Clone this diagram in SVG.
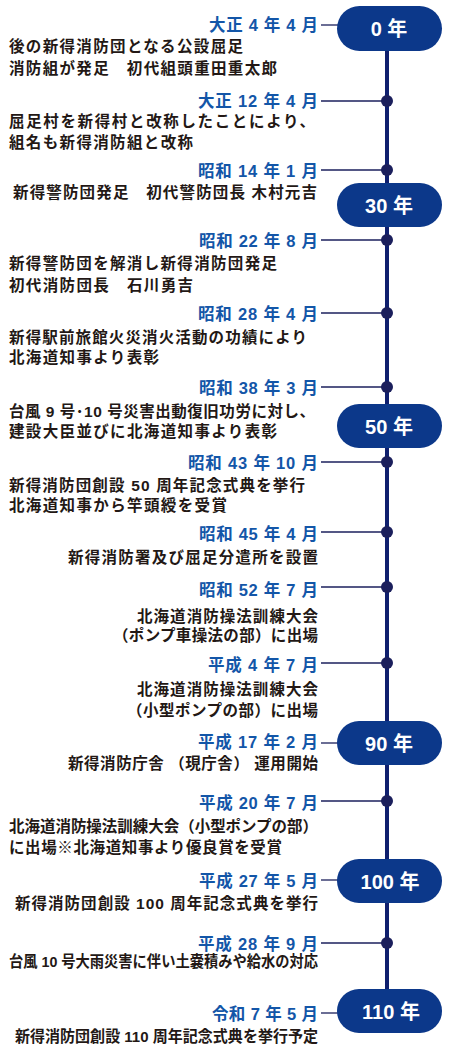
<svg xmlns="http://www.w3.org/2000/svg" width="454" height="1055" viewBox="0 0 454 1055">
<style>
.bg{fill:#ffffff}
.spine{stroke:#0f1f6e;stroke-width:4;fill:none}
.lead{stroke:#1b1f5c;stroke-width:1.3;fill:none}
.dot{fill:#1b1f5c}
.pill{fill:#0c388a}
.pt{font-family:"Liberation Sans","Noto Sans CJK JP",sans-serif;font-size:20px;font-weight:700;fill:#ffffff;text-anchor:middle}
.dt{font-family:"Liberation Sans","Noto Sans CJK JP",sans-serif;font-size:16.5px;font-weight:700;fill:#1356a8;text-anchor:end}
.tx{font-family:"Liberation Sans","Noto Sans CJK JP",sans-serif;font-size:15.5px;font-weight:700;fill:#231815}
.te{text-anchor:end}
</style>
<rect class="bg" x="0" y="0" width="454" height="1055"/>
<g id="connectors">
<line class="spine" x1="387" y1="40" x2="387" y2="1000"/>
<line class="lead" x1="321" y1="25" x2="340" y2="25"/>
<line class="lead" x1="321" y1="101" x2="387" y2="101"/>
<line class="lead" x1="321" y1="170" x2="387" y2="170"/>
<line class="lead" x1="321" y1="240" x2="387" y2="240"/>
<line class="lead" x1="321" y1="313" x2="387" y2="313"/>
<line class="lead" x1="321" y1="387" x2="387" y2="387"/>
<line class="lead" x1="321" y1="462" x2="387" y2="462"/>
<line class="lead" x1="321" y1="532" x2="387" y2="532"/>
<line class="lead" x1="321" y1="587" x2="387" y2="587"/>
<line class="lead" x1="321" y1="663" x2="387" y2="663"/>
<line class="lead" x1="321" y1="743" x2="340" y2="743"/>
<line class="lead" x1="321" y1="801" x2="387" y2="801"/>
<line class="lead" x1="321" y1="880" x2="340" y2="880"/>
<line class="lead" x1="321" y1="943" x2="387" y2="943"/>
<line class="lead" x1="321" y1="1013" x2="340" y2="1013"/>
</g>
<g id="pill-0"><rect class="pill" x="337" y="6" width="105" height="45" rx="22.5"/><text class="pt" x="389" y="36">0 年</text></g>
<g id="pill-30"><rect class="pill" x="337" y="183" width="105" height="44" rx="22"/><text class="pt" x="389" y="212.5">30 年</text></g>
<g id="pill-50"><rect class="pill" x="337" y="404" width="105" height="44" rx="22"/><text class="pt" x="389" y="433.5">50 年</text></g>
<g id="pill-90"><rect class="pill" x="337" y="721" width="105" height="44" rx="22"/><text class="pt" x="389" y="750.5">90 年</text></g>
<g id="pill-100"><rect class="pill" x="337" y="859" width="105" height="44" rx="22"/><text class="pt" x="390" y="888.5">100 年</text></g>
<g id="pill-110"><rect class="pill" x="337" y="989" width="105" height="44" rx="22"/><text class="pt" x="391" y="1018.5">110 年</text></g>

<g id="ev-t4">
<text class="dt" x="318" y="31" textLength="109" lengthAdjust="spacing">大正 4 年 4 月</text>
<text class="tx" x="9" y="52" textLength="234" lengthAdjust="spacing">後の新得消防団となる公設屈足</text>
<text class="tx" x="9" y="74" textLength="268" lengthAdjust="spacing">消防組が発足　初代組頭重田重太郎</text>
</g>
<g id="ev-t12">
<circle class="dot" cx="387" cy="101" r="6"/>
<text class="dt" x="318" y="107" textLength="120" lengthAdjust="spacing">大正 12 年 4 月</text>
<text class="tx" x="9" y="127" textLength="306" lengthAdjust="spacing">屈足村を新得村と改称したことにより、</text>
<text class="tx" x="9" y="148" textLength="184" lengthAdjust="spacing">組名も新得消防組と改称</text>
</g>
<g id="ev-s14">
<circle class="dot" cx="387" cy="170" r="6"/>
<text class="dt" x="318" y="177" textLength="120" lengthAdjust="spacing">昭和 14 年 1 月</text>
<text class="tx" x="13" y="198" textLength="304" lengthAdjust="spacing">新得警防団発足　初代警防団長 木村元吉</text>
</g>
<g id="ev-s22">
<circle class="dot" cx="387" cy="240" r="6"/>
<text class="dt" x="318" y="247" textLength="119" lengthAdjust="spacing">昭和 22 年 8 月</text>
<text class="tx" x="9" y="269" textLength="268" lengthAdjust="spacing">新得警防団を解消し新得消防団発足</text>
<text class="tx" x="9" y="291" textLength="184" lengthAdjust="spacing">初代消防団長　石川勇吉</text>
</g>
<g id="ev-s28">
<circle class="dot" cx="387" cy="313" r="6"/>
<text class="dt" x="318" y="320" textLength="120" lengthAdjust="spacing">昭和 28 年 4 月</text>
<text class="tx" x="9" y="343" textLength="298" lengthAdjust="spacing">新得駅前旅館火災消火活動の功績により</text>
<text class="tx" x="9" y="363" textLength="150" lengthAdjust="spacing">北海道知事より表彰</text>
</g>
<g id="ev-s38">
<circle class="dot" cx="387" cy="387" r="6"/>
<text class="dt" x="318" y="394" textLength="119" lengthAdjust="spacing">昭和 38 年 3 月</text>
<text class="tx" x="9" y="417" textLength="306" lengthAdjust="spacing">台風 9 号･10 号災害出動復旧功労に対し、</text>
<text class="tx" x="9" y="437" textLength="268" lengthAdjust="spacing">建設大臣並びに北海道知事より表彰</text>
</g>
<g id="ev-s43">
<circle class="dot" cx="387" cy="462" r="6"/>
<text class="dt" x="318" y="469" textLength="130" lengthAdjust="spacing">昭和 43 年 10 月</text>
<text class="tx" x="9" y="491" textLength="296" lengthAdjust="spacing">新得消防団創設 50 周年記念式典を挙行</text>
<text class="tx" x="9" y="511" textLength="218" lengthAdjust="spacing">北海道知事から竿頭綬を受賞</text>
</g>
<g id="ev-s45">
<circle class="dot" cx="387" cy="532" r="6"/>
<text class="dt" x="318" y="540" textLength="119" lengthAdjust="spacing">昭和 45 年 4 月</text>
<text class="tx te" x="318" y="563" textLength="250" lengthAdjust="spacing">新得消防署及び屈足分遣所を設置</text>
</g>
<g id="ev-s52">
<circle class="dot" cx="387" cy="587" r="6"/>
<text class="dt" x="318" y="596" textLength="119" lengthAdjust="spacing">昭和 52 年 7 月</text>
<text class="tx te" x="318" y="622" textLength="181" lengthAdjust="spacing">北海道消防操法訓練大会</text>
<text class="tx te" x="318" y="641" textLength="205" lengthAdjust="spacing">（ポンプ車操法の部）に出場</text>
</g>
<g id="ev-h4">
<circle class="dot" cx="387" cy="663" r="6"/>
<text class="dt" x="318" y="671" textLength="110" lengthAdjust="spacing">平成 4 年 7 月</text>
<text class="tx te" x="318" y="695" textLength="181" lengthAdjust="spacing">北海道消防操法訓練大会</text>
<text class="tx te" x="318" y="716" textLength="191" lengthAdjust="spacing">（小型ポンプの部）に出場</text>
</g>
<g id="ev-h17">
<text class="dt" x="318" y="748" textLength="120" lengthAdjust="spacing">平成 17 年 2 月</text>
<text class="tx te" x="318" y="769" textLength="250" lengthAdjust="spacing">新得消防庁舎 （現庁舎） 運用開始</text>
</g>
<g id="ev-h20">
<circle class="dot" cx="387" cy="801" r="6"/>
<text class="dt" x="318" y="809" textLength="119" lengthAdjust="spacing">平成 20 年 7 月</text>
<text class="tx" x="9" y="832" textLength="309" lengthAdjust="spacingAndGlyphs">北海道消防操法訓練大会（小型ポンプの部）</text>
<text class="tx" x="9" y="853" textLength="273" lengthAdjust="spacing">に出場※北海道知事より優良賞を受賞</text>
</g>
<g id="ev-h27">
<text class="dt" x="318" y="887" textLength="119" lengthAdjust="spacing">平成 27 年 5 月</text>
<text class="tx te" x="318" y="909" textLength="303" lengthAdjust="spacing">新得消防団創設 100 周年記念式典を挙行</text>
</g>
<g id="ev-h28">
<circle class="dot" cx="387" cy="943" r="6"/>
<text class="dt" x="318" y="950" textLength="120" lengthAdjust="spacing">平成 28 年 9 月</text>
<text class="tx" x="9" y="967" textLength="309" lengthAdjust="spacingAndGlyphs">台風 10 号大雨災害に伴い土嚢積みや給水の対応</text>
</g>
<g id="ev-r7">
<text class="dt" x="318" y="1020" textLength="106" lengthAdjust="spacing">令和 7 年 5 月</text>
<text class="tx te" x="318" y="1042" textLength="303" lengthAdjust="spacingAndGlyphs">新得消防団創設 110 周年記念式典を挙行予定</text>
</g>
</svg>
